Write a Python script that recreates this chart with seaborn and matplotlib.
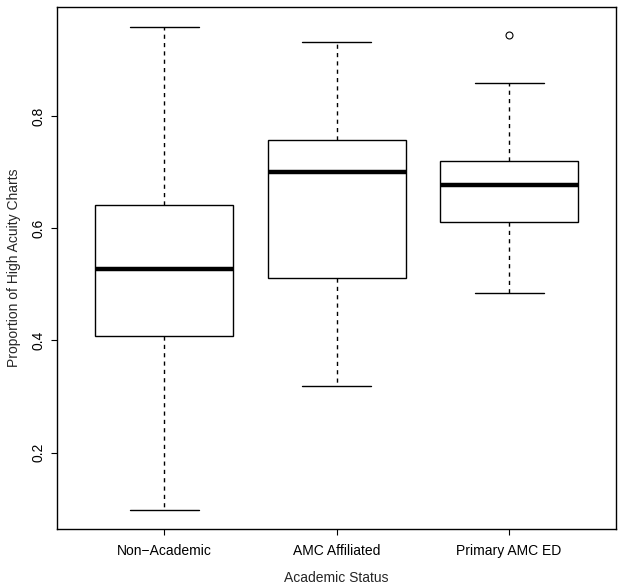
import pandas as pd
import seaborn as sns
import matplotlib.pyplot as plt

# summary values
groups = ["Non\u2212Academic", "AMC Affiliated", "Primary AMC ED"]
whisker_low = [0.097, 0.318, 0.484]
q1 = [0.408, 0.512, 0.611]
median = [0.527, 0.700, 0.677]
q3 = [0.642, 0.757, 0.7205]
whisker_high = [0.959, 0.932, 0.8595]
outliers = [[], [], [0.945]]

# build samples whose quartiles reproduce the summaries
rows = []
for i, g in enumerate(groups):
    vals = [whisker_low[i], q1[i], q1[i], median[i], median[i], q3[i], q3[i], whisker_high[i]] + outliers[i]
    for v in vals:
        rows.append((g, v))
df = pd.DataFrame(rows, columns=["Academic Status", "Proportion of High Acuity Charts"])

sns.set_style("white")
plt.rcParams["font.family"] = ["Liberation Sans", "DejaVu Sans"]

fig = plt.figure(figsize=(6.24, 5.88), dpi=100)
ax = fig.add_axes([0.0918, 0.1009, 0.8954, 0.8877])

sns.boxplot(data=df, x="Academic Status", y="Proportion of High Acuity Charts",
            order=groups, width=0.8, whis=1.5, ax=ax,
            boxprops=dict(facecolor="white", edgecolor="black", linewidth=1),
            medianprops=dict(color="black", linewidth=3.2),
            whiskerprops=dict(color="black", linewidth=1, linestyle=(0, (3, 3))),
            capprops=dict(color="black", linewidth=1),
            capwidths=0.4,
            flierprops=dict(marker="o", markersize=5, markerfacecolor="white",
                            markeredgecolor="black", markeredgewidth=0.8))

ax.set_xlim(-0.62, 2.62)
ax.set_ylim(0.0645, 0.995)
ax.set_yticks([0.2, 0.4, 0.6, 0.8])
ax.set_yticklabels(["0.2", "0.4", "0.6", "0.8"], rotation=90, va="center")
for s in ax.spines.values():
    s.set_visible(True)
    s.set_color("black")
    s.set_linewidth(1)
ax.tick_params(axis="both", direction="out", length=4.3, width=0.8, color="black",
               labelsize=10, labelcolor="black", left=True, bottom=True)
ax.tick_params(axis="x", pad=7)
ax.tick_params(axis="y", pad=4.5)
ax.set_xlabel("Academic Status", fontsize=10, labelpad=9)
ax.set_ylabel("Proportion of High Acuity Charts", fontsize=10, labelpad=7.5)

fig.savefig("out.png", dpi=100)
